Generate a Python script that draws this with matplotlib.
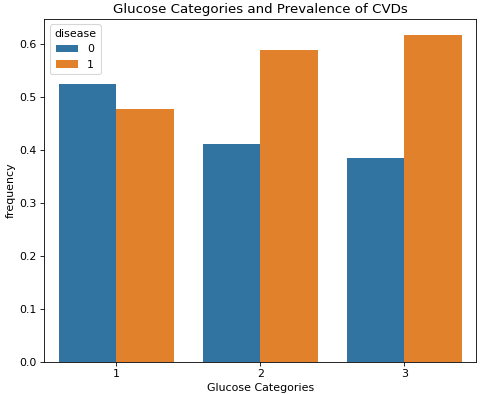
import numpy as np
import pandas as pd
import seaborn as sns
import matplotlib.pyplot as plt

categories = [1, 2, 3]
freq_disease0 = [0.524, 0.411, 0.384]
freq_disease1 = [0.476, 0.589, 0.616]

df = pd.DataFrame({
    'gluc': categories * 2,
    'disease': [0] * len(categories) + [1] * len(categories),
    'frequency': freq_disease0 + freq_disease1,
})

plt.rcParams['font.size'] = 10.6
plt.rcParams['axes.titlesize'] = 12.8

fig = plt.figure(figsize=(6.4, 394 / 75), dpi=75)
ax = fig.add_axes([0.092, 0.082, 0.9, 0.87])
sns.barplot(data=df, x='gluc', y='frequency', hue='disease', ax=ax)
ax.set_xlabel('Glucose Categories')
ax.set_ylabel('frequency')
ax.set_title('Glucose Categories and Prevalence of CVDs')
ax.legend(title='disease', loc='upper left')
fig.savefig('out.png', dpi=75)
